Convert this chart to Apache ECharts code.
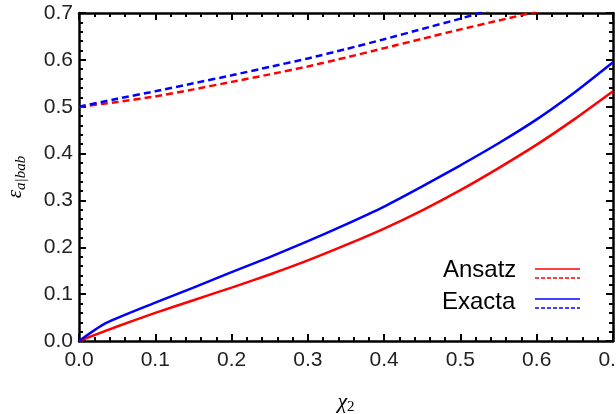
<!DOCTYPE html>
<html>
<head>
<meta charset="utf-8">
<script src="https://cdn.jsdelivr.net/npm/echarts@6/dist/echarts.min.js"></script>
<style>html,body{margin:0;padding:0;background:#fff}#c{width:616px;height:414px}</style>
</head>
<body>
<div id="c"></div>
<script>
const xTicks = [0.0, 0.1, 0.2, 0.3, 0.4, 0.5, 0.6, 0.7];
const ansatzSolidX = [0, 0.05, 0.1, 0.15, 0.2, 0.25, 0.3, 0.35, 0.4, 0.45, 0.5, 0.55, 0.6, 0.65, 0.7];
const ansatzSolidY = [0, 0.031, 0.06, 0.087, 0.114, 0.142, 0.172, 0.205, 0.240, 0.279, 0.322, 0.369, 0.419, 0.474, 0.533];
const exactaSolidX = [0, 0.035, 0.1, 0.15, 0.2, 0.25, 0.3, 0.35, 0.4, 0.45, 0.5, 0.55, 0.6, 0.65, 0.7];
const exactaSolidY = [0, 0.038, 0.082, 0.114, 0.147, 0.179, 0.213, 0.249, 0.287, 0.330, 0.375, 0.422, 0.473, 0.531, 0.595];
const ansatzDashX = [0, 0.05, 0.1, 0.15, 0.2, 0.25, 0.3, 0.35, 0.4, 0.45, 0.5, 0.55, 0.6];
const ansatzDashY = [0.5, 0.51, 0.522, 0.537, 0.553, 0.569, 0.586, 0.605, 0.625, 0.645, 0.665, 0.684, 0.703];
const exactaDashX = [0, 0.05, 0.1, 0.15, 0.2, 0.25, 0.3, 0.35, 0.4, 0.45, 0.5, 0.55];
const exactaDashY = [0.5, 0.517, 0.533, 0.55, 0.567, 0.585, 0.603, 0.623, 0.644, 0.666, 0.688, 0.712];

const zip = (xs, ys) => xs.map((x, i) => [x, ys[i]]);
const FONT = '"Liberation Sans", Arial, sans-serif';
const SERIF = '"Liberation Serif", "DejaVu Serif", serif';
const axisCommon = {
  type: 'value', min: 0, max: 0.7, interval: 0.1,
  axisLine: { show: true, onZero: false, lineStyle: { color: '#000', width: 2.5 } },
  axisTick: { show: true, inside: true, length: 7, lineStyle: { color: '#000', width: 2 } },
  minorTick: { show: true, splitNumber: 5, length: 4, lineStyle: { color: '#000', width: 2 } },
  splitLine: { show: false },
  minorSplitLine: { show: false }
};
const labelStyle = { color: '#222', fontSize: 21, fontFamily: FONT, formatter: v => v.toFixed(1) };

const lineBase = { type: 'line', showSymbol: false, smooth: 0.2 };

const chart = echarts.init(document.getElementById('c'), null, { renderer: 'canvas' });
chart.setOption({
  animation: false,
  grid: { left: 79, right: 3, top: 13, bottom: 73, containLabel: false, outerBoundsMode: 'none' },
  xAxis: [
    Object.assign({}, axisCommon, {
      position: 'bottom', axisLabel: Object.assign({ margin: 9 }, labelStyle),
      name: '{c|χ}{s|2}', nameLocation: 'middle', nameGap: 48,
      nameTextStyle: { rich: {
        c: { fontSize: 22, fontStyle: 'italic', fontFamily: SERIF, color: '#000', lineHeight: 26, verticalAlign: 'middle' },
        s: { fontSize: 15, fontFamily: SERIF, color: '#000', lineHeight: 26, verticalAlign: 'bottom' }
      } }
    }),
    Object.assign({}, axisCommon, { position: 'top', axisLabel: { show: false } })
  ],
  yAxis: [
    Object.assign({}, axisCommon, {
      position: 'left', axisLabel: Object.assign({ margin: 6 }, labelStyle),
      name: '{e|ε}{s|a|bab}', nameLocation: 'middle', nameRotate: 90, nameGap: 50,
      nameTextStyle: { rich: {
        e: { fontSize: 21, fontStyle: 'italic', fontFamily: SERIF, color: '#000', lineHeight: 28, verticalAlign: 'middle' },
        s: { fontSize: 15, fontStyle: 'italic', fontFamily: SERIF, color: '#000', lineHeight: 28, verticalAlign: 'bottom' }
      } }
    }),
    Object.assign({}, axisCommon, { position: 'right', axisLabel: { show: false } })
  ],
  series: [
    Object.assign({}, lineBase, { data: zip(ansatzSolidX, ansatzSolidY), lineStyle: { color: '#ff0000', width: 2.5 } }),
    Object.assign({}, lineBase, { data: zip(ansatzDashX, ansatzDashY), lineStyle: { color: '#ff0000', width: 2.5, type: [7, 4] } }),
    Object.assign({}, lineBase, { data: zip(exactaSolidX, exactaSolidY), lineStyle: { color: '#0000ff', width: 2.5 } }),
    Object.assign({}, lineBase, { data: zip(exactaDashX, exactaDashY), lineStyle: { color: '#0000ff', width: 2.5, type: [7, 4] } })
  ],
  graphic: [
    { type: 'text', left: 443, top: 258, style: { text: 'Ansatz', fontSize: 24, fontFamily: FONT, fill: '#000' } },
    { type: 'text', left: 442, top: 290, style: { text: 'Exacta', fontSize: 24, fontFamily: FONT, fill: '#000' } },
    { type: 'line', shape: { x1: 535, y1: 269, x2: 580, y2: 269 }, style: { stroke: '#ff0000', lineWidth: 1.5 } },
    { type: 'line', shape: { x1: 535, y1: 278, x2: 580, y2: 278 }, style: { stroke: '#ff0000', lineWidth: 1.5, lineDash: [4, 2] } },
    { type: 'line', shape: { x1: 535, y1: 299, x2: 580, y2: 299 }, style: { stroke: '#0000ff', lineWidth: 1.5 } },
    { type: 'line', shape: { x1: 535, y1: 308, x2: 580, y2: 308 }, style: { stroke: '#0000ff', lineWidth: 1.5, lineDash: [4, 2] } }
  ]
});
</script>
</body>
</html>
